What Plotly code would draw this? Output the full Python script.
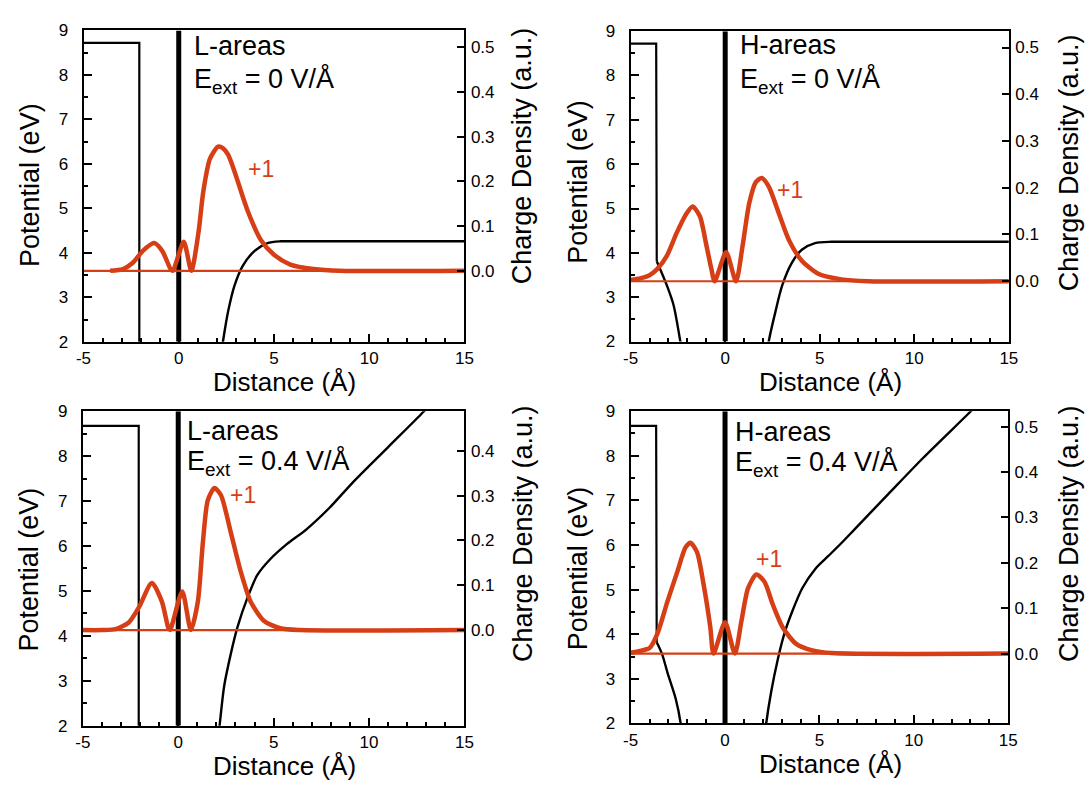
import plotly.graph_objects as go

# ---------------------------------------------------------------
# Data: electrostatic potential (eV) and charge density (a.u.)
# versus distance from the surface (Å), four configurations.
# ---------------------------------------------------------------

# Panel 1: L-areas, E_ext = 0 V/Å
pot1_step_x = [-5, -2.07, -2.07]
pot1_step_y = [8.72, 8.72, 1.5]
pot1_vac_x = [2.22, 2.33, 2.59, 2.93, 3.36, 3.97, 4.66, 5.34, 6.0, 15]
pot1_vac_y = [1.7, 2.03, 2.68, 3.27, 3.71, 4.04, 4.22, 4.26, 4.26, 4.26]
rho1_x = [-3.6, -2.93, -2.41, -1.90, -1.29, -0.86, -0.43, -0.31, 0.26, 0.66,
          1.03, 1.29, 1.64, 2.07, 2.33, 2.59, 2.93, 3.10, 3.62, 4.31, 5.0, 5.86, 7.07, 8.45, 15]
rho1_y = [0.0, 0.004, 0.018, 0.044, 0.062, 0.044, 0.004, 0.0, 0.065, 0.0,
          0.084, 0.178, 0.251, 0.278, 0.274, 0.260, 0.222, 0.200, 0.134, 0.069, 0.036, 0.014,
          0.004, 0.0, 0.0]

# Panel 2: H-areas, E_ext = 0 V/Å
pot2_step_x = [-5, -3.65, -3.62]
pot2_step_y = [8.72, 8.72, 3.81]
pot2_ads_x = [-3.62, -3.08, -2.73, -2.38, -2.25]
pot2_ads_y = [3.81, 3.26, 2.82, 2.02, 1.7]
pot2_vac_x = [2.2, 2.31, 2.66, 3.01, 3.53, 4.05, 4.75, 5.62, 6.5, 15]
pot2_vac_y = [1.7, 2.02, 2.68, 3.26, 3.78, 4.07, 4.22, 4.25, 4.25, 4.25]
rho2_x = [-5, -4.5, -4.0, -3.6, -3.08, -2.56, -2.03, -1.72, -1.34, -0.99, -0.73, -0.56,
          0.05, 0.57, 0.92, 1.27, 1.62, 1.93, 2.31, 2.83, 3.36, 4.05, 4.92, 6.14, 7.53, 15]
rho2_y = [0.003, 0.006, 0.013, 0.026, 0.055, 0.104, 0.146, 0.160, 0.139, 0.076, 0.026, 0.0,
          0.062, 0.0, 0.076, 0.167, 0.212, 0.221, 0.202, 0.146, 0.089, 0.044, 0.016, 0.004, 0.0, 0.0]

# Panel 3: L-areas, E_ext = 0.4 V/Å
pot3_step_x = [-5, -2.07, -2.07]
pot3_step_y = [8.67, 8.67, 1.5]
pot3_vac_x = [2.08, 2.16, 2.41, 2.76, 3.10, 3.62, 4.14, 4.83, 5.69, 6.72, 7.93,
              9.14, 11.0, 12.84, 13.3]
pot3_vac_y = [1.7, 1.98, 2.89, 3.61, 4.19, 4.84, 5.35, 5.71, 6.04, 6.37, 6.85,
              7.41, 8.2, 8.98, 9.2]
rho3_x = [-5, -4, -3.28, -2.59, -2.07, -1.38, -0.86, -0.52, -0.43, 0.21, 0.66, 1.03,
          1.29, 1.55, 1.90, 2.24, 2.76, 3.28, 3.79, 4.48, 5.34, 6.38, 15]
rho3_y = [0.0, 0.0, 0.002, 0.017, 0.050, 0.105, 0.064, 0.005, 0.0, 0.086, 0.0, 0.064,
          0.195, 0.290, 0.317, 0.301, 0.217, 0.130, 0.064, 0.021, 0.004, 0.0, 0.0]

# Panel 4: H-areas, E_ext = 0.4 V/Å
pot4_step_x = [-5, -3.65, -3.62]
pot4_step_y = [8.67, 8.67, 3.82]
pot4_ads_x = [-3.62, -3.33, -3.05, -2.61, -2.35, -2.28]
pot4_ads_y = [3.82, 3.55, 3.14, 2.55, 2.0, 1.7]
pot4_vac_x = [2.1, 2.18, 2.44, 2.79, 3.14, 3.57, 4.09, 4.79, 5.49, 6.18, 6.86,
              8.67, 10.49, 12.86, 13.3]
pot4_vac_y = [1.7, 2.0, 2.70, 3.43, 4.01, 4.52, 5.03, 5.47, 5.76, 6.05, 6.35,
              7.15, 7.95, 8.93, 9.12]
rho4_x = [-5, -4.5, -4.0, -3.57, -3.05, -2.53, -2.09, -1.83, -1.48, -1.13, -0.78, -0.61,
          0.0, 0.52, 0.87, 1.22, 1.66, 2.09, 2.53, 3.05, 3.75, 4.62, 5.66, 15]
rho4_y = [0.002, 0.006, 0.012, 0.045, 0.115, 0.180, 0.234, 0.244, 0.223, 0.151, 0.058, 0.0,
          0.069, 0.0, 0.072, 0.144, 0.174, 0.158, 0.108, 0.058, 0.022, 0.007, 0.001, 0.0]

x_ticks = [-5, 0, 5, 10, 15]
x_tick_text = ["-5", "0", "5", "10", "15"]
pot_ticks = [2, 3, 4, 5, 6, 7, 8, 9]
rho_ticks = [0.0, 0.1, 0.2, 0.3, 0.4, 0.5]
rho_tick_text = ["0.0", "0.1", "0.2", "0.3", "0.4", "0.5"]
surface_x = 0.0

area_labels = ["L-areas", "H-areas", "L-areas", "H-areas"]
field_labels = ["E<sub>ext</sub> = 0 V/Å", "E<sub>ext</sub> = 0 V/Å",
                "E<sub>ext</sub> = 0.4 V/Å", "E<sub>ext</sub> = 0.4 V/Å"]
charge_label = "+1"

# ---------------------------------------------------------------
# Figure geometry (pixels of a 1092 x 794 canvas)
# ---------------------------------------------------------------
W, H = 1092, 794
RED = "#D63E16"
FONT = "Liberation Sans, Arial, sans-serif"

panels = [
    dict(px=(76.7, 463.7), py=(22.0, 341.0), rho_range=(-0.159, 0.538),
         steps=[(pot1_step_x, pot1_step_y)],
         curves=[(pot1_vac_x, pot1_vac_y)],
         rho=(rho1_x, rho1_y),
         text_xy=(0.72, 8.66, 7.88), plus_xy=(4.30, 5.88),
         titles=dict(left=(21.6, 180), right=(523, 150), bottom=(280.7, 382))),
    dict(px=(632.5, 1016.7), py=(22.7, 340.7), rho_range=(-0.129, 0.535),
         steps=[(pot2_step_x, pot2_step_y)],
         curves=[(pot2_ads_x, pot2_ads_y), (pot2_vac_x, pot2_vac_y)],
         rho=(rho2_x, rho2_y),
         text_xy=(0.70, 8.68, 7.88), plus_xy=(3.42, 5.42),
         titles=dict(left=(579, 177), right=(1077.7, 157), bottom=(835.5, 382))),
    dict(px=(76.0, 463.7), py=(412.0, 734.3), rho_range=(-0.2135, 0.4887),
         steps=[(pot3_step_x, pot3_step_y)],
         curves=[(pot3_vac_x, pot3_vac_y)],
         rho=(rho3_x, rho3_y),
         text_xy=(0.38, 8.55, 7.86), plus_xy=(3.37, 7.14),
         titles=dict(left=(21, 574.5), right=(523, 537), bottom=(280.7, 776))),
    dict(px=(632.5, 1016.0), py=(412.0, 732.0), rho_range=(-0.154, 0.534),
         steps=[(pot4_step_x, pot4_step_y)],
         curves=[(pot4_ads_x, pot4_ads_y), (pot4_vac_x, pot4_vac_y)],
         rho=(rho4_x, rho4_y),
         text_xy=(0.44, 8.53, 7.82), plus_xy=(2.34, 5.68),
         titles=dict(left=(579, 573), right=(1077.7, 537), bottom=(835.5, 774))),
]

fig = go.Figure()
layout = dict(
    width=W, height=H,
    margin=dict(l=0, r=0, t=0, b=0),
    paper_bgcolor="white", plot_bgcolor="white",
    showlegend=False,
    font=dict(family=FONT, color="black"),
)
annotations = []

for i, p in enumerate(panels):
    n = i + 1
    xa = "x" if n == 1 else f"x{n}"
    ya = "y" if n == 1 else f"y{n}"
    ra_num = n + 4
    ra = f"y{ra_num}"

    xd = [p["px"][0] / W, p["px"][1] / W]
    yd = [1 - p["py"][1] / H, 1 - p["py"][0] / H]

    layout[f"xaxis{'' if n == 1 else n}"] = dict(
        domain=xd, range=[-5, 15], anchor=ya,
        showline=True, linecolor="black", linewidth=2, mirror=True,
        ticks="inside", ticklen=8, tickwidth=1.5, tickcolor="black",
        tickvals=x_ticks, ticktext=x_tick_text,
        minor=dict(ticks="inside", ticklen=4, tickwidth=1.5, dtick=1, tick0=0,
                   tickcolor="black", showgrid=False),
        showgrid=False, zeroline=False,
        tickfont=dict(size=17, family=FONT), ticklabelstandoff=0,
    )
    layout[f"yaxis{'' if n == 1 else n}"] = dict(
        domain=yd, range=[2, 9], anchor=xa,
        showline=True, linecolor="black", linewidth=2,
        ticks="inside", ticklen=8, tickwidth=1.5, tickcolor="black",
        tickvals=pot_ticks,
        minor=dict(ticks="inside", ticklen=4, tickwidth=1.5, dtick=0.5, tick0=0,
                   tickcolor="black", showgrid=False),
        showgrid=False, zeroline=False,
        tickfont=dict(size=17, family=FONT), ticklabelstandoff=10,
    )
    layout[f"yaxis{ra_num}"] = dict(
        overlaying=ya, side="right", anchor=xa,
        range=list(p["rho_range"]),
        showline=True, linecolor="black", linewidth=2,
        ticks="inside", ticklen=7, tickwidth=1.5, tickcolor="black",
        tickvals=rho_ticks, ticktext=rho_tick_text,
        showgrid=False, zeroline=False,
        tickfont=dict(size=17, family=FONT), ticklabelstandoff=1,
    )

    # potential: abrupt steps drawn straight, smooth parts as splines
    for sx, sy in p["steps"]:
        fig.add_trace(go.Scatter(x=sx, y=sy, mode="lines", xaxis=xa, yaxis=ya,
                                 line=dict(color="black", width=2.2)))
    for cx, cy in p["curves"]:
        fig.add_trace(go.Scatter(x=cx, y=cy, mode="lines", xaxis=xa, yaxis=ya,
                                 line=dict(color="black", width=2.4, shape="spline",
                                           smoothing=0.8)))

    # zero-charge reference line and the charge density profile
    fig.add_trace(go.Scatter(x=[-5, 15], y=[0, 0], mode="lines", xaxis=xa, yaxis=ra,
                             line=dict(color=RED, width=2.2)))
    rx, ry = p["rho"]
    fig.add_trace(go.Scatter(x=rx, y=ry, mode="lines", xaxis=xa, yaxis=ra,
                             line=dict(color=RED, width=4.5, shape="spline",
                                       smoothing=0.7)))

    # surface plane
    fig.add_trace(go.Scatter(x=[surface_x, surface_x], y=[2, 9], mode="lines",
                             xaxis=xa, yaxis=ya,
                             line=dict(color="black", width=5)))

    tx, ty1, ty2 = p["text_xy"]
    annotations.append(dict(x=tx, y=ty1, xref=xa, yref=ya, text=area_labels[i],
                            showarrow=False, xanchor="left", yanchor="middle",
                            font=dict(size=27, family=FONT, color="black")))
    annotations.append(dict(x=tx, y=ty2, xref=xa, yref=ya, text=field_labels[i],
                            showarrow=False, xanchor="left", yanchor="middle",
                            font=dict(size=27, family=FONT, color="black")))
    annotations.append(dict(x=p["plus_xy"][0], y=p["plus_xy"][1], xref=xa, yref=ya,
                            text=charge_label, showarrow=False,
                            xanchor="center", yanchor="middle",
                            font=dict(size=23, family=FONT, color=RED)))

    t = p["titles"]
    annotations.append(dict(x=t["left"][0] / W, y=1 - t["left"][1] / H,
                            xref="paper", yref="paper", text="Potential (eV)",
                            textangle=-90, showarrow=False,
                            xanchor="center", yanchor="middle",
                            font=dict(size=27, family=FONT, color="black")))
    annotations.append(dict(x=t["right"][0] / W, y=1 - t["right"][1] / H,
                            xref="paper", yref="paper", text="Charge Density (a.u.)",
                            textangle=-90, showarrow=False,
                            xanchor="center", yanchor="middle",
                            font=dict(size=27, family=FONT, color="black")))
    annotations.append(dict(x=t["bottom"][0] / W, y=1 - t["bottom"][1] / H,
                            xref="paper", yref="paper", text="Distance (Å)",
                            showarrow=False, xanchor="center", yanchor="middle",
                            font=dict(size=26, family=FONT, color="black")))

layout["annotations"] = annotations
fig.update_layout(**layout)
fig.write_html("out.html")
